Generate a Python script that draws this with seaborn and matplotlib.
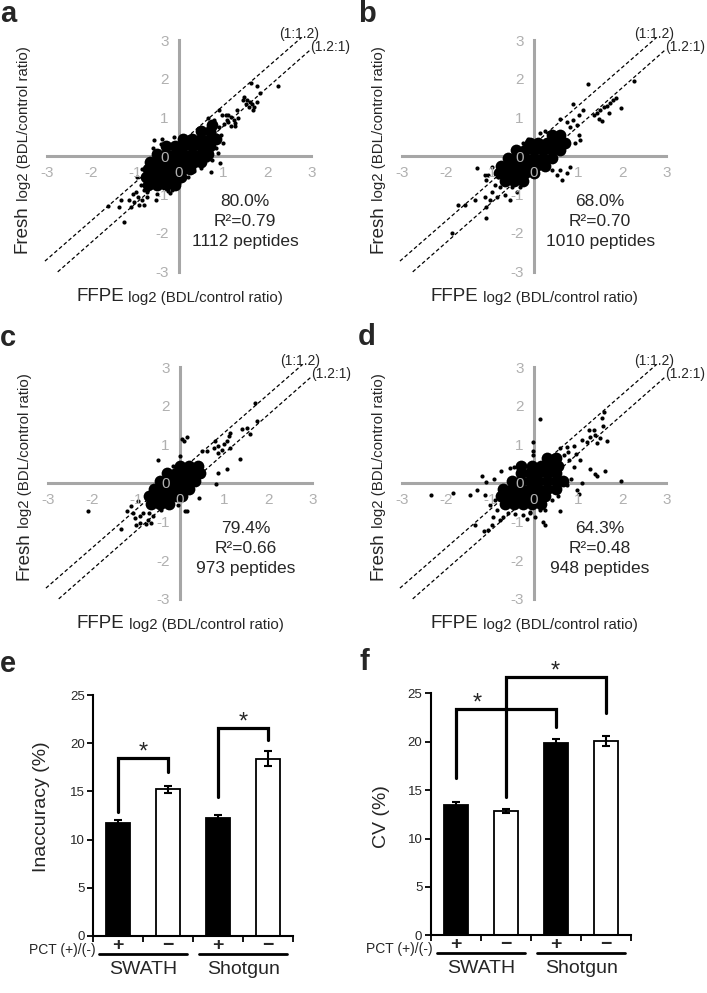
import matplotlib
matplotlib.use("Agg")
import matplotlib.pyplot as plt
import seaborn as sns
import pandas as pd

W, H = 707, 993
GRAY = "#a6a6a6"
TICKGRAY = "#b0b0b0"

# ---------- scatter panels: FFPE (x) vs Fresh (y), log2 BDL/control ----------
# scattered peptides
a_pts = [(1.64, 1.90), (1.77, 1.81), (2.25, 1.82), (1.83, 1.64), (1.47, 1.52), (1.54, 1.45),
         (1.61, 1.40), (1.66, 1.34), (1.71, 1.27), (1.58, 1.27), (1.51, 1.36), (1.77, 1.40),
         (1.45, 1.45), (1.67, 1.19), (1.12, 1.07), (1.17, 1.01), (1.24, 0.93), (1.28, 0.86),
         (1.33, 1.00), (1.12, 0.88), (1.03, 0.82), (1.17, 0.78), (1.28, 0.77), (0.66, 1.00),
         (0.90, 1.20), (1.06, 1.06), (0.79, 0.93), (0.72, 0.68), (0.83, 0.54), (0.57, 0.49),
         (0.98, 1.06), (1.09, 0.93), (1.32, 1.19), (0.90, 0.75), (0.79, 0.62),
         (0.88, 0.08), (0.73, -0.42), (0.94, -0.18), (0.64, -0.11), (0.68, -0.07), (0.75, -0.11),
         (-1.62, -1.30), (-1.36, -1.32), (-1.24, -1.71), (-1.13, -1.13), (-1.02, -1.19),
         (-1.09, -1.32), (-0.94, -1.06), (-0.90, -1.26), (-0.83, -1.15), (-0.72, -1.06),
         (-0.79, -1.28), (-0.98, -0.94), (-0.79, -0.89), (-1.32, -1.15), (-1.05, -0.98),
         (-0.87, -0.76), (-0.72, -0.94), (-0.49, -0.98), (-0.53, -1.15), (-0.26, -0.90),
         (-0.15, -0.88), (-0.57, 0.41), (-0.38, 0.45), (-0.11, 0.49), (0.08, 0.51), (0.15, 0.41),
         (-0.85, -0.35), (-0.95, -0.55), (-0.60, 0.20), (-0.40, 0.30), (0.20, -0.55), (0.35, -0.40),
         (0.50, -0.30), (0.85, 0.20), (1.00, 0.35), (0.95, 0.55), (-0.20, -0.95), (0.00, -0.70)]
b_pts = [(1.23, 1.88), (2.26, 1.94), (1.98, 1.24), (1.86, 1.50), (1.80, 1.46), (1.73, 1.37),
         (1.65, 1.30), (1.58, 1.27), (1.50, 1.20), (1.42, 1.11), (1.35, 1.07), (1.69, 1.11),
         (1.48, 0.95), (1.54, 0.92), (0.89, 1.35), (1.11, 1.20), (1.01, 1.07), (0.59, 0.95),
         (0.74, 0.89), (0.89, 0.94), (0.97, 0.81), (0.82, 0.76), (0.25, 0.66), (0.40, 0.63),
         (0.14, 0.59), (-0.24, 0.33), (-0.13, 0.44), (1.01, 0.55), (1.05, 0.42), (0.93, 0.33),
         (0.63, -0.63), (0.74, -0.45), (0.82, -0.28), (0.59, -0.36), (0.52, -0.49), (0.40, -0.36),
         (-1.87, -2.01), (-1.72, -1.28), (-1.57, -1.28), (-1.34, -1.15), (-1.30, -0.30),
         (-1.11, -0.49), (-1.08, -0.63), (-1.11, -1.06), (-1.08, -1.32), (-1.09, -1.62),
         (-1.00, -1.15), (-0.96, -0.93), (-0.85, -1.06), (-0.77, -0.80), (-0.89, -0.76),
         (-0.66, -1.02), (-0.51, -0.80), (-0.39, -0.93), (-0.32, -0.80), (-0.55, -1.15),
         (-0.62, -0.71), (-0.81, -0.54), (-0.96, -0.28), (-1.04, -0.49)]
c_pts = [(1.71, 2.08), (1.75, 1.62), (1.52, 1.43), (1.40, 1.39), (1.58, 1.26), (1.14, 1.30),
         (1.10, 1.21), (1.06, 1.10), (0.99, 1.00), (0.87, 0.95), (0.95, 0.87), (0.76, 0.91),
         (0.80, 1.08), (0.87, 0.78), (0.61, 0.82), (0.49, 0.82), (1.14, 0.91), (1.37, 0.62),
         (1.06, 0.37), (0.87, 0.26), (0.82, -0.02), (0.43, -0.39), (0.04, 1.15), (0.15, 1.19),
         (0.09, 1.08), (-0.49, 0.59), (0.00, 0.69), (-0.15, 0.43), (0.11, -0.72), (0.17, -0.72),
         (-0.04, -0.56), (-2.09, -0.72), (-1.33, -1.19), (-1.21, -0.74), (-1.03, -0.91),
         (-0.99, -1.08), (-0.91, -0.87), (-0.84, -0.78), (-0.72, -0.95), (-0.65, -1.04),
         (-0.61, -0.87), (-0.70, -0.78), (-1.10, -0.61), (-0.95, -0.48), (-0.53, -0.61),
         (-0.42, -0.69), (-0.30, -0.61), (-0.91, -1.04), (-0.77, -1.06), (-1.06, -0.78)]
d_pts = [(0.14, 1.65), (1.58, 1.85), (1.54, 1.70), (1.56, 1.48), (1.35, 1.37), (1.24, 1.37),
         (1.39, 1.24), (1.28, 1.20), (1.50, 1.16), (1.66, 1.10), (1.20, 1.07), (1.09, 1.11),
         (1.43, 1.03), (1.28, 0.37), (1.39, 0.24), (1.62, 0.31), (1.43, 0.17), (1.05, 0.59),
         (0.90, 0.42), (1.09, 0.01), (1.97, 0.05), (0.97, -0.19), (1.01, -0.28), (0.58, -0.74),
         (0.24, -1.09), (0.20, -1.00), (-0.02, 1.07), (-0.02, 0.83), (-0.46, 0.42), (-0.02, 0.72),
         (0.59, 0.90), (0.74, 0.94), (0.90, 0.96), (0.67, 0.72), (0.78, 0.81),
         (-2.33, -0.30), (-1.84, -0.25), (-1.46, -0.30), (-1.29, -0.17), (-1.18, 0.18),
         (-1.09, 0.03), (-0.85, -0.71), (-0.93, -0.89), (-1.13, -1.25), (-1.04, -1.22),
         (-0.96, -1.10), (-1.34, -1.08), (-0.77, -0.97), (-0.70, -0.89), (-0.58, -0.78),
         (-0.43, -0.80), (-0.24, -0.84), (-0.17, -0.93), (-0.09, -0.78), (0.14, -0.71),
         (0.02, -0.89), (-0.89, -0.45), (-1.00, -0.58),
         (-0.90, 0.10), (-0.75, 0.30), (-0.55, 0.40), (0.40, -0.45), (0.55, -0.35), (0.75, -0.05),
         (0.85, 0.10), (0.25, -0.70), (-0.10, -0.75), (0.80, 0.60), (0.95, 0.75), (-1.10, -0.30)]

# dense solid cores: Fresh value -> FFPE values along that row
a_core = {-0.75: [-0.7, -0.5, -0.3, -0.1],
          -0.55: [-0.75, -0.55, -0.35, -0.15, 0.05],
          -0.35: [-0.7, -0.5, -0.3, -0.1, 0.1, 0.25],
          -0.15: [-0.65, -0.45, -0.25, -0.05, 0.15, 0.35, 0.5],
          0.05: [-0.5, -0.3, -0.1, 0.1, 0.3, 0.5, 0.65],
          0.25: [-0.3, -0.1, 0.1, 0.3, 0.5, 0.7],
          0.45: [0.1, 0.3, 0.5, 0.7, 0.85],
          0.65: [0.5, 0.7],
          0.8: [0.75]}
b_core = {-0.65: [-0.65, -0.45, -0.25],
          -0.45: [-0.8, -0.6, -0.4, -0.2, 0.0],
          -0.25: [-0.75, -0.55, -0.35, -0.15, 0.05, 0.25],
          -0.05: [-0.6, -0.4, -0.2, 0.0, 0.2, 0.4],
          0.15: [-0.4, -0.2, 0.0, 0.2, 0.4, 0.6],
          0.35: [-0.1, 0.1, 0.3, 0.5, 0.7],
          0.55: [0.4, 0.6]}
c_core = {-0.55: [-0.65, -0.45, -0.25],
          -0.35: [-0.7, -0.5, -0.3, -0.1, 0.05],
          -0.15: [-0.6, -0.4, -0.2, 0.0, 0.2],
          0.05: [-0.45, -0.25, -0.05, 0.15, 0.35],
          0.25: [-0.3, -0.1, 0.1, 0.3, 0.45],
          0.45: [0.0, 0.2, 0.4]}
d_core = {-0.55: [-0.65, -0.45, -0.25, -0.05, 0.15],
          -0.35: [-0.75, -0.55, -0.35, -0.15, 0.05, 0.25],
          -0.15: [-0.7, -0.5, -0.3, -0.1, 0.1, 0.3, 0.5],
          0.05: [-0.5, -0.3, -0.1, 0.1, 0.3, 0.5, 0.65],
          0.25: [-0.3, -0.1, 0.1, 0.3, 0.5],
          0.45: [-0.3, -0.05, 0.15, 0.35, 0.55],
          0.65: [0.3, 0.5]}

a_text = ["80.0%", "R²=0.79", "1112 peptides"]
b_text = ["68.0%", "R²=0.70", "1010 peptides"]
c_text = ["79.4%", "R²=0.66", "973 peptides"]
d_text = ["64.3%", "R²=0.48", "948 peptides"]

# (1:1.2) and (1.2:1) guide lines
guide_hi_x, guide_hi_y = [-3.04, 2.78], [-2.73, 3.08]
guide_lo_x, guide_lo_y = [-2.75, 3.00], [-3.01, 2.78]
scatter_ticks = [-3, -2, -1, 0, 1, 2, 3]

# ---------- bar panels ----------
conditions = ["SWATH +", "SWATH −", "Shotgun +", "Shotgun −"]
pct = ["+", "−", "+", "−"]
methods = ["SWATH", "Shotgun"]
inaccuracy = [11.7, 15.2, 12.2, 18.4]
inaccuracy_err = [0.3, 0.4, 0.35, 0.75]
cv = [13.45, 12.85, 19.85, 20.05]
cv_err = [0.3, 0.2, 0.45, 0.5]
# (left bar, right bar, left leg bottom, right leg bottom, top, star x, star y)
inaccuracy_sig = [(0, 1, 12.9, 17.0, 18.5, 0.5, 19.0), (2, 3, 14.45, 20.3, 21.6, 2.5, 22.1)]
cv_sig = [(0, 2, 16.2, 21.5, 23.35, 0.43, 23.9), (1, 3, 14.3, 23.0, 26.65, 1.98, 27.2)]

sns.set_theme(style="white")
plt.rcParams["font.family"] = ["Liberation Sans", "DejaVu Sans"]
plt.rcParams["axes.unicode_minus"] = False

fig = plt.figure(figsize=(W / 100, H / 100), dpi=100)

SX, SY = 44.1, 38.5
XL, YL = (-3.3, 3.3), (-3.3, 3.3)


def px_rect(left, top, right, bottom):
    return [left / W, 1 - bottom / H, (right - left) / W, (bottom - top) / H]


def fig_text(x, y, s, **kw):
    return fig.text(x / W, 1 - y / H, s, **kw)


def scatter_panel(cx, cy, pts, core, texts, letter, lx, ly):
    ax = fig.add_axes(px_rect(cx + SX * XL[0], cy - SY * YL[1], cx + SX * XL[1], cy - SY * YL[0]))
    ax.patch.set_visible(False)
    core_df = pd.DataFrame([(x, y) for y, xs in core.items() for x in xs], columns=["FFPE", "Fresh"])
    pts_df = pd.DataFrame(pts, columns=["FFPE", "Fresh"])
    sns.scatterplot(data=core_df, x="FFPE", y="Fresh", s=72, color="black", linewidth=0, ax=ax, zorder=3)
    sns.scatterplot(data=pts_df, x="FFPE", y="Fresh", s=9, color="black", linewidth=0, ax=ax, zorder=3)
    ax.plot(guide_hi_x, guide_hi_y, color="black", lw=0.9, ls=(0, (3, 2)), zorder=2)
    ax.plot(guide_lo_x, guide_lo_y, color="black", lw=0.9, ls=(0, (3, 2)), zorder=2)
    ax.text(2.73, 3.18, "(1:1.2)", fontsize=10, ha="center", va="center")
    ax.text(3.43, 2.83, "(1.2:1)", fontsize=10, ha="center", va="center")
    for s, y in zip(texts, [-1.18, -1.70, -2.21]):
        ax.text(1.5, y, s, fontsize=12.5, ha="center", va="center")
    ax.set_xlim(XL)
    ax.set_ylim(YL)
    for side in ["top", "right"]:
        ax.spines[side].set_visible(False)
    for side in ["left", "bottom"]:
        sp = ax.spines[side]
        sp.set_position("zero")
        sp.set_bounds(-3, 3)
        sp.set_color(GRAY)
        sp.set_linewidth(2.2)
        sp.set_zorder(1)
    ax.set_xticks(scatter_ticks)
    ax.set_yticks(scatter_ticks)
    ax.tick_params(direction="inout", length=9, width=1.8, color=GRAY,
                   labelcolor=TICKGRAY, labelsize=11, pad=3)
    ax.xaxis.set_zorder(4)
    ax.yaxis.set_zorder(4)
    ax.set_xlabel("")
    ax.set_ylabel("")

    # axis titles: large word + smaller unit text
    t = fig_text(cx - 103, cy + 145, "FFPE", fontsize=13.5, ha="left", va="baseline")
    ax.annotate(" log2 (BDL/control ratio)", xy=(1, 0), xycoords=t, fontsize=10.8,
                ha="left", va="bottom", annotation_clip=False)
    t = fig_text(cx - 152, cy + 97, "Fresh", fontsize=13.5, rotation=90,
                 rotation_mode="anchor", ha="left", va="baseline")
    ax.annotate(" log2 (BDL/control ratio)", xy=(1, 1), xycoords=t, fontsize=10.8, rotation=90,
                rotation_mode="anchor", ha="left", va="bottom", annotation_clip=False)
    fig_text(lx, ly, letter, fontsize=21, fontweight="bold", ha="left", va="baseline")


scatter_panel(179, 156, a_pts, a_core, a_text, "a", 0, 22)
scatter_panel(534, 156, b_pts, b_core, b_text, "b", 358, 22)
scatter_panel(180, 483, c_pts, c_core, c_text, "c", 0, 346)
scatter_panel(534, 483, d_pts, d_core, d_text, "d", 358, 345)


def bar_panel(rect, values, errs, ylabel, sig, label_xy, letter, lx, ly):
    ax = fig.add_axes(rect)
    df = pd.DataFrame({"cond": conditions, "val": values, "pct": pct})
    sns.barplot(data=df, x="cond", y="val", hue="pct", palette={"+": "black", "−": "white"},
                edgecolor="black", linewidth=1.3, width=0.48, dodge=False, legend=False, ax=ax)
    ax.errorbar(range(len(values)), values, yerr=errs, fmt="none", ecolor="black",
                elinewidth=1.5, capsize=3, capthick=1.5, zorder=3)
    for x1, x2, b1, b2, top, sx, sy in sig:
        ax.plot([x1, x1, x2, x2], [b1, top, top, b2], color="black", lw=2.3,
                clip_on=False, solid_joinstyle="miter")
        ax.text(sx, sy, "*", fontsize=17, ha="center", va="center")
    ax.set_xlim(-0.5, 3.5)
    ax.set_ylim(0, 25)
    ax.set_yticks([0, 5, 10, 15, 20, 25])
    ax.set_xticks([-0.5, 0.5, 1.5, 2.5, 3.5])
    ax.set_xticklabels([])
    sns.despine(ax=ax)
    for side in ["left", "bottom"]:
        ax.spines[side].set_color("black")
        ax.spines[side].set_linewidth(1.5)
    ax.tick_params(axis="both", direction="out", length=4, width=1.3, color="black",
                   labelsize=9.5, pad=2, left=True, bottom=True)
    ax.set_xlabel("")
    ax.set_ylabel(ylabel, fontsize=14)
    ax.yaxis.set_label_coords(*label_xy)

    tr = ax.get_xaxis_transform()
    ax.text(-0.46, -0.058, "PCT (+)/(-)", transform=tr, fontsize=10, ha="right", va="center")
    for i, s in enumerate(pct):
        ax.text(i, -0.04, s, transform=tr, fontsize=14, fontweight="bold", ha="center", va="center")
    for g, m in enumerate(methods):
        c = 0.5 + 2 * g
        ax.plot([c - 0.88, c + 0.88], [-0.075, -0.075], transform=tr, color="black", lw=2,
                clip_on=False)
        ax.text(c, -0.137, m, transform=tr, fontsize=14, ha="center", va="center")
    fig_text(lx, ly, letter, fontsize=21, fontweight="bold", ha="left", va="baseline")


bar_panel(px_rect(93.3, 695, 293.3, 936), inaccuracy, inaccuracy_err, "Inaccuracy (%)",
          inaccuracy_sig, (-0.217, 0.535), "e", 0, 672)
bar_panel(px_rect(430.7, 693.3, 631.3, 935.3), cv, cv_err, "CV (%)",
          cv_sig, (-0.204, 0.49), "f", 359, 670)

fig.savefig("out.png", dpi=100)
